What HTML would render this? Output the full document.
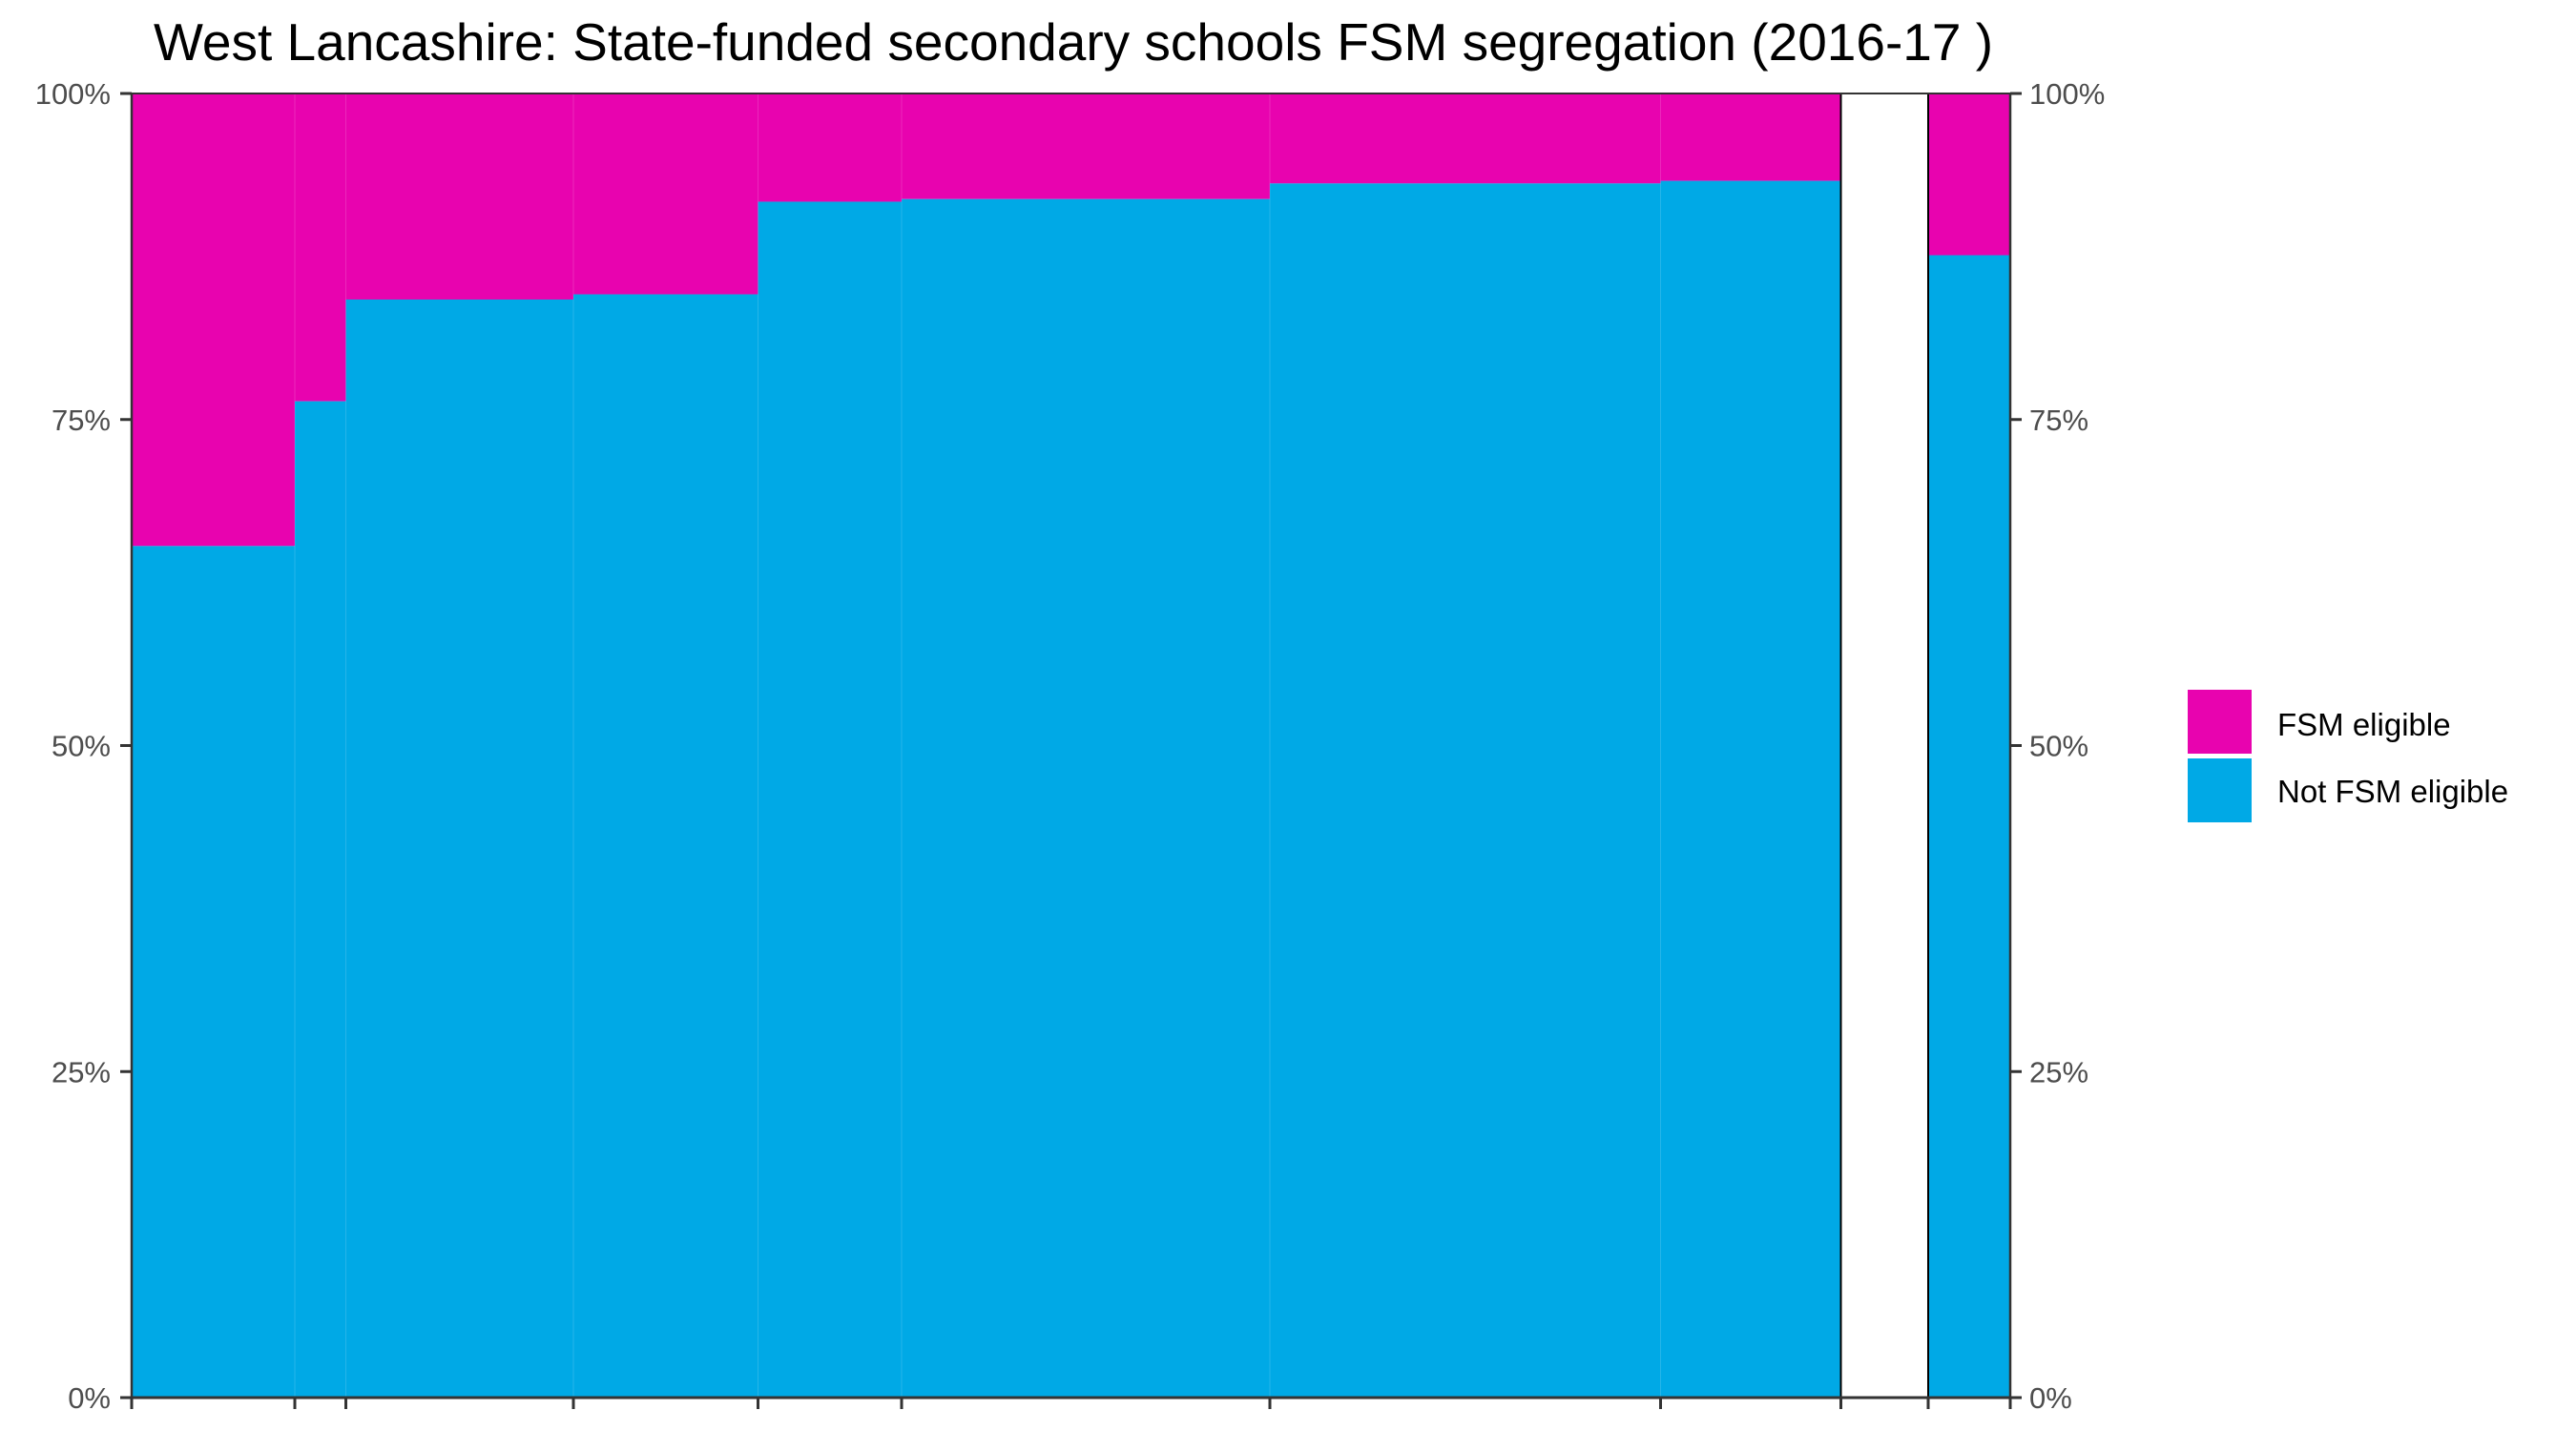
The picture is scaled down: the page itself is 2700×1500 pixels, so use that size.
<!DOCTYPE html>
<html><head><meta charset="utf-8"><style>
body{margin:0;background:#fff;}
svg{display:block;font-family:"Liberation Sans",Arial,sans-serif;}
</style></head><body>
<svg id="chart" width="2700" height="1500" viewBox="0 0 2700 1500">
<text x="1125" y="63" font-size="55" text-anchor="middle" fill="#000">West Lancashire: State-funded secondary schools FSM segregation (2016-17 )</text>
<g id="bars"></g>
<g id="axes"></g>
<g>
<rect x="2293" y="723" width="67" height="67" fill="#E803AF"/>
<text x="2387" y="771" font-size="33" fill="#000">FSM eligible</text>
<rect x="2293" y="795" width="67" height="67" fill="#00A9E6"/>
<text x="2387" y="841" font-size="33" fill="#000">Not FSM eligible</text>
</g>
</svg>
<script>
const edges = [0, 171, 224.5, 463, 656.5, 807, 1193, 1602.5, 1791.5, 1883, 1969];
const notFsmShare = [65.3, 76.4, 84.2, 84.6, 91.7, 91.9, 93.1, 93.3, null, 87.6];
const outlined = [false,false,false,false,false,false,false,false,true,true];
const yTicks = [0, 25, 50, 75, 100];
const yTickLabels = ["0%", "25%", "50%", "75%", "100%"];

const L=138, R=2107, T=98, B=1465;
const NS="http://www.w3.org/2000/svg";
const xMax = edges[edges.length-1];
const xs = v => L + v/xMax*(R-L);
const ys = v => B - v/100*(B-T);
function mk(tag, attrs, parent){const e=document.createElementNS(NS,tag);for(const k in attrs)e.setAttribute(k,attrs[k]);parent.appendChild(e);return e;}
const bars=document.getElementById('bars'), axes=document.getElementById('axes');
for(let i=0;i<notFsmShare.length;i++){
  const x0=xs(edges[i]), x1=xs(edges[i+1]), v=notFsmShare[i];
  if(v===null){
    const r=mk('rect',{x:x0,y:T,width:x1-x0,height:B-T,fill:'#fff',stroke:'#000','stroke-width':2},bars);
    
    
    continue;
  }
  const a=mk('rect',{x:x0,y:T,width:x1-x0,height:ys(v)-T,fill:'#E803AF'},bars);
  
  
  const b=mk('rect',{x:x0,y:ys(v),width:x1-x0,height:B-ys(v),fill:'#00A9E6'},bars);
  
  
  if(outlined[i]){
    const o=mk('rect',{x:x0,y:T,width:x1-x0,height:B-T,fill:'none',stroke:'#000','stroke-width':2},bars);
    
    
  } else if(i>0){
    const s=mk('line',{x1:x0,x2:x0,y1:T,y2:B,stroke:'rgba(255,255,255,0.15)','stroke-width':1},bars);
    
    
  }
}
const ax='#333';
let l=mk('line',{x1:L,x2:L,y1:T,y2:B,stroke:ax,'stroke-width':2.5},axes);


l=mk('line',{x1:R,x2:R,y1:T,y2:B,stroke:ax,'stroke-width':2.5},axes);


l=mk('line',{x1:L-3,x2:R+3,y1:B,y2:B,stroke:ax,'stroke-width':3},axes);


l=mk('line',{x1:L,x2:R,y1:T,y2:T,stroke:ax,'stroke-width':2},axes);


yTicks.forEach((v,i)=>{
  const y=ys(v);
  let t=mk('line',{x1:L-12,x2:L,y1:y,y2:y,stroke:ax,'stroke-width':3},axes);
  
  
  t=mk('line',{x1:R,x2:R+12,y1:y,y2:y,stroke:ax,'stroke-width':3},axes);
  
  
  let tx=mk('text',{x:L-22,y:y+11,'font-size':31,'text-anchor':'end',fill:'#4d4d4d'},axes);
  tx.textContent=yTickLabels[i];
  
  
  tx=mk('text',{x:R+20,y:y+11,'font-size':31,'text-anchor':'start',fill:'#4d4d4d'},axes);
  tx.textContent=yTickLabels[i];
  
  
});
edges.forEach(e=>{
  const x=xs(e);
  const t=mk('line',{x1:x,x2:x,y1:B,y2:B+12,stroke:ax,'stroke-width':3},axes);
  
  
});
</script>
</body></html>
